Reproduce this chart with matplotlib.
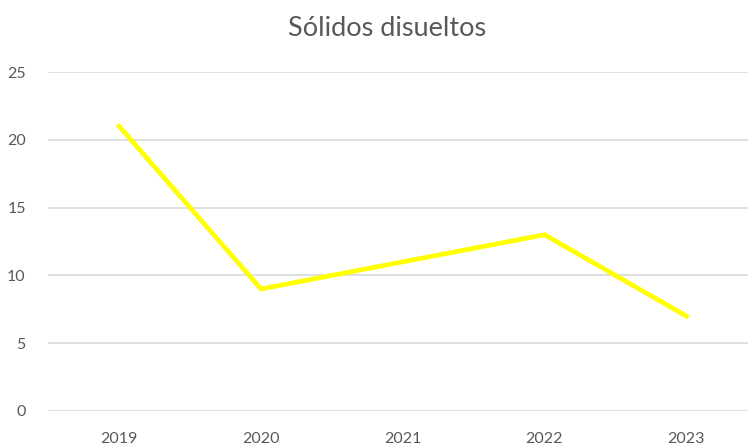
import matplotlib
matplotlib.use("Agg")
import matplotlib.pyplot as plt

years = ["2019", "2020", "2021", "2022", "2023"]
values = [21, 9, 11, 13, 7]
y_ticks = [0, 5, 10, 15, 20, 25]

W, H = 748, 446
fig = plt.figure(figsize=(W / 100, H / 100), dpi=100)
left, right = 48, 748
bottom, top = 411, 72
ax = fig.add_axes([left / W, 1 - bottom / H, (right - left) / W, (bottom - top) / H])

x = list(range(len(years)))
ax.plot(x, values, color="#FFFF00", linewidth=3.4, solid_joinstyle="miter", zorder=3)

ax.set_xlim(-0.5, (right - 118) / 142)
ax.set_ylim(0, 25)
ax.set_yticks(y_ticks)
ax.set_xticks(x)
ax.set_xticklabels(years)
ax.grid(axis="y", color="#d9d9d9", linewidth=1.2)
ax.set_axisbelow(True)
for s in ax.spines.values():
    s.set_visible(False)
ax.tick_params(axis="both", length=0, labelsize=11.5, labelcolor="#595959")
ax.tick_params(axis="y", pad=16)
ax.tick_params(axis="x", pad=15)
for lbl in ax.get_xticklabels() + ax.get_yticklabels():
    lbl.set_fontfamily("Lato")

fig.text(387 / W, 1 - 36 / H, "Sólidos disueltos", ha="center", va="baseline",
         fontsize=19.5, color="#595959", family="Lato")

fig.savefig("out.png", dpi=100, facecolor="white")
